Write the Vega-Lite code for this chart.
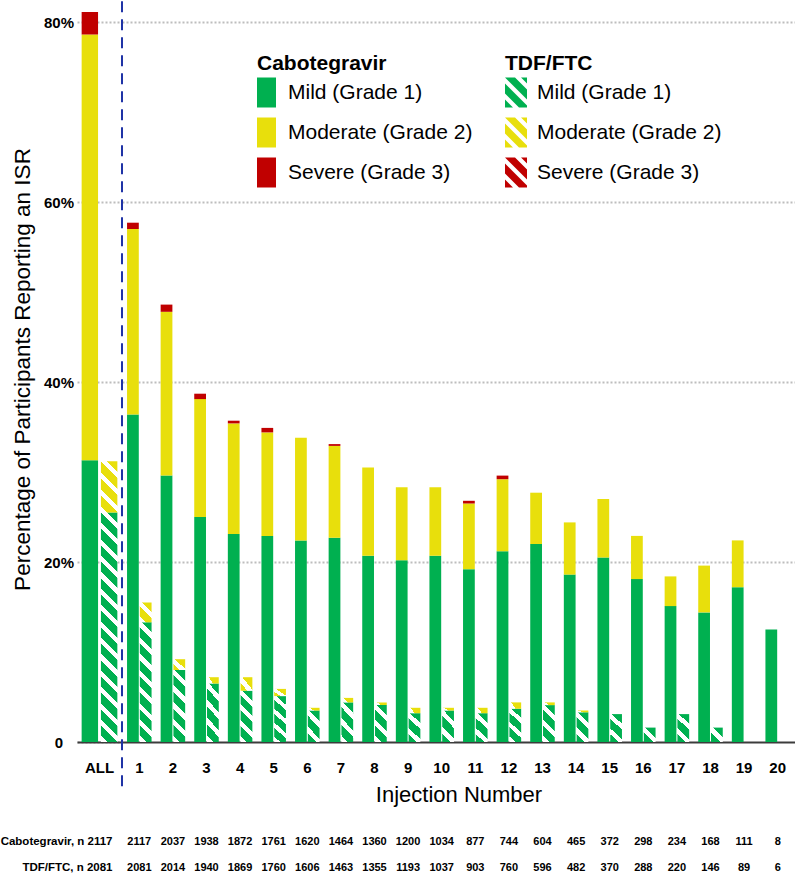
{
"$schema": "https://vega.github.io/schema/vega-lite/v6.json",
"background": "white",
"padding": {"left": 0, "top": 0, "right": 0, "bottom": 0},
"autosize": {"type": "pad"},
"datasets": {
"bars": [
{"inj":"ALL","arm":"Cabotegravir","grade":"Mild (Grade 1)","pct":31.3},
{"inj":"ALL","arm":"Cabotegravir","grade":"Moderate (Grade 2)","pct":47.3},
{"inj":"ALL","arm":"Cabotegravir","grade":"Severe (Grade 3)","pct":2.5},
{"inj":"ALL","arm":"TDF/FTC","grade":"Mild (Grade 1)","pct":25.5},
{"inj":"ALL","arm":"TDF/FTC","grade":"Moderate (Grade 2)","pct":5.7},
{"inj":"1","arm":"Cabotegravir","grade":"Mild (Grade 1)","pct":36.4},
{"inj":"1","arm":"Cabotegravir","grade":"Moderate (Grade 2)","pct":20.6},
{"inj":"1","arm":"Cabotegravir","grade":"Severe (Grade 3)","pct":0.7},
{"inj":"1","arm":"TDF/FTC","grade":"Mild (Grade 1)","pct":13.3},
{"inj":"1","arm":"TDF/FTC","grade":"Moderate (Grade 2)","pct":2.2},
{"inj":"2","arm":"Cabotegravir","grade":"Mild (Grade 1)","pct":29.6},
{"inj":"2","arm":"Cabotegravir","grade":"Moderate (Grade 2)","pct":18.2},
{"inj":"2","arm":"Cabotegravir","grade":"Severe (Grade 3)","pct":0.8},
{"inj":"2","arm":"TDF/FTC","grade":"Mild (Grade 1)","pct":8.0},
{"inj":"2","arm":"TDF/FTC","grade":"Moderate (Grade 2)","pct":1.2},
{"inj":"3","arm":"Cabotegravir","grade":"Mild (Grade 1)","pct":25.0},
{"inj":"3","arm":"Cabotegravir","grade":"Moderate (Grade 2)","pct":13.1},
{"inj":"3","arm":"Cabotegravir","grade":"Severe (Grade 3)","pct":0.6},
{"inj":"3","arm":"TDF/FTC","grade":"Mild (Grade 1)","pct":6.5},
{"inj":"3","arm":"TDF/FTC","grade":"Moderate (Grade 2)","pct":0.7},
{"inj":"4","arm":"Cabotegravir","grade":"Mild (Grade 1)","pct":23.1},
{"inj":"4","arm":"Cabotegravir","grade":"Moderate (Grade 2)","pct":12.3},
{"inj":"4","arm":"Cabotegravir","grade":"Severe (Grade 3)","pct":0.3},
{"inj":"4","arm":"TDF/FTC","grade":"Mild (Grade 1)","pct":5.7},
{"inj":"4","arm":"TDF/FTC","grade":"Moderate (Grade 2)","pct":1.5},
{"inj":"5","arm":"Cabotegravir","grade":"Mild (Grade 1)","pct":22.9},
{"inj":"5","arm":"Cabotegravir","grade":"Moderate (Grade 2)","pct":11.5},
{"inj":"5","arm":"Cabotegravir","grade":"Severe (Grade 3)","pct":0.5},
{"inj":"5","arm":"TDF/FTC","grade":"Mild (Grade 1)","pct":5.1},
{"inj":"5","arm":"TDF/FTC","grade":"Moderate (Grade 2)","pct":0.8},
{"inj":"6","arm":"Cabotegravir","grade":"Mild (Grade 1)","pct":22.4},
{"inj":"6","arm":"Cabotegravir","grade":"Moderate (Grade 2)","pct":11.4},
{"inj":"6","arm":"TDF/FTC","grade":"Mild (Grade 1)","pct":3.5},
{"inj":"6","arm":"TDF/FTC","grade":"Moderate (Grade 2)","pct":0.3},
{"inj":"7","arm":"Cabotegravir","grade":"Mild (Grade 1)","pct":22.7},
{"inj":"7","arm":"Cabotegravir","grade":"Moderate (Grade 2)","pct":10.2},
{"inj":"7","arm":"Cabotegravir","grade":"Severe (Grade 3)","pct":0.2},
{"inj":"7","arm":"TDF/FTC","grade":"Mild (Grade 1)","pct":4.4},
{"inj":"7","arm":"TDF/FTC","grade":"Moderate (Grade 2)","pct":0.5},
{"inj":"8","arm":"Cabotegravir","grade":"Mild (Grade 1)","pct":20.7},
{"inj":"8","arm":"Cabotegravir","grade":"Moderate (Grade 2)","pct":9.8},
{"inj":"8","arm":"TDF/FTC","grade":"Mild (Grade 1)","pct":4.1},
{"inj":"8","arm":"TDF/FTC","grade":"Moderate (Grade 2)","pct":0.3},
{"inj":"9","arm":"Cabotegravir","grade":"Mild (Grade 1)","pct":20.2},
{"inj":"9","arm":"Cabotegravir","grade":"Moderate (Grade 2)","pct":8.1},
{"inj":"9","arm":"TDF/FTC","grade":"Mild (Grade 1)","pct":3.2},
{"inj":"9","arm":"TDF/FTC","grade":"Moderate (Grade 2)","pct":0.6},
{"inj":"10","arm":"Cabotegravir","grade":"Mild (Grade 1)","pct":20.7},
{"inj":"10","arm":"Cabotegravir","grade":"Moderate (Grade 2)","pct":7.6},
{"inj":"10","arm":"TDF/FTC","grade":"Mild (Grade 1)","pct":3.5},
{"inj":"10","arm":"TDF/FTC","grade":"Moderate (Grade 2)","pct":0.3},
{"inj":"11","arm":"Cabotegravir","grade":"Mild (Grade 1)","pct":19.2},
{"inj":"11","arm":"Cabotegravir","grade":"Moderate (Grade 2)","pct":7.3},
{"inj":"11","arm":"Cabotegravir","grade":"Severe (Grade 3)","pct":0.3},
{"inj":"11","arm":"TDF/FTC","grade":"Mild (Grade 1)","pct":3.2},
{"inj":"11","arm":"TDF/FTC","grade":"Moderate (Grade 2)","pct":0.6},
{"inj":"12","arm":"Cabotegravir","grade":"Mild (Grade 1)","pct":21.2},
{"inj":"12","arm":"Cabotegravir","grade":"Moderate (Grade 2)","pct":8.0},
{"inj":"12","arm":"Cabotegravir","grade":"Severe (Grade 3)","pct":0.4},
{"inj":"12","arm":"TDF/FTC","grade":"Mild (Grade 1)","pct":3.7},
{"inj":"12","arm":"TDF/FTC","grade":"Moderate (Grade 2)","pct":0.7},
{"inj":"13","arm":"Cabotegravir","grade":"Mild (Grade 1)","pct":22.0},
{"inj":"13","arm":"Cabotegravir","grade":"Moderate (Grade 2)","pct":5.7},
{"inj":"13","arm":"TDF/FTC","grade":"Mild (Grade 1)","pct":4.1},
{"inj":"13","arm":"TDF/FTC","grade":"Moderate (Grade 2)","pct":0.3},
{"inj":"14","arm":"Cabotegravir","grade":"Mild (Grade 1)","pct":18.6},
{"inj":"14","arm":"Cabotegravir","grade":"Moderate (Grade 2)","pct":5.8},
{"inj":"14","arm":"TDF/FTC","grade":"Mild (Grade 1)","pct":3.3},
{"inj":"14","arm":"TDF/FTC","grade":"Moderate (Grade 2)","pct":0.2},
{"inj":"15","arm":"Cabotegravir","grade":"Mild (Grade 1)","pct":20.5},
{"inj":"15","arm":"Cabotegravir","grade":"Moderate (Grade 2)","pct":6.5},
{"inj":"15","arm":"TDF/FTC","grade":"Mild (Grade 1)","pct":3.1},
{"inj":"16","arm":"Cabotegravir","grade":"Mild (Grade 1)","pct":18.1},
{"inj":"16","arm":"Cabotegravir","grade":"Moderate (Grade 2)","pct":4.8},
{"inj":"16","arm":"TDF/FTC","grade":"Mild (Grade 1)","pct":1.6},
{"inj":"17","arm":"Cabotegravir","grade":"Mild (Grade 1)","pct":15.1},
{"inj":"17","arm":"Cabotegravir","grade":"Moderate (Grade 2)","pct":3.3},
{"inj":"17","arm":"TDF/FTC","grade":"Mild (Grade 1)","pct":3.1},
{"inj":"18","arm":"Cabotegravir","grade":"Mild (Grade 1)","pct":14.4},
{"inj":"18","arm":"Cabotegravir","grade":"Moderate (Grade 2)","pct":5.2},
{"inj":"18","arm":"TDF/FTC","grade":"Mild (Grade 1)","pct":1.6},
{"inj":"19","arm":"Cabotegravir","grade":"Mild (Grade 1)","pct":17.2},
{"inj":"19","arm":"Cabotegravir","grade":"Moderate (Grade 2)","pct":5.2},
{"inj":"20","arm":"Cabotegravir","grade":"Mild (Grade 1)","pct":12.5}
],
"counts": [
{"inj":"1","row":"Cabotegravir, n 2117","n":2117},{"inj":"2","row":"Cabotegravir, n 2117","n":2037},{"inj":"3","row":"Cabotegravir, n 2117","n":1938},{"inj":"4","row":"Cabotegravir, n 2117","n":1872},{"inj":"5","row":"Cabotegravir, n 2117","n":1761},{"inj":"6","row":"Cabotegravir, n 2117","n":1620},{"inj":"7","row":"Cabotegravir, n 2117","n":1464},{"inj":"8","row":"Cabotegravir, n 2117","n":1360},{"inj":"9","row":"Cabotegravir, n 2117","n":1200},{"inj":"10","row":"Cabotegravir, n 2117","n":1034},{"inj":"11","row":"Cabotegravir, n 2117","n":877},{"inj":"12","row":"Cabotegravir, n 2117","n":744},{"inj":"13","row":"Cabotegravir, n 2117","n":604},{"inj":"14","row":"Cabotegravir, n 2117","n":465},{"inj":"15","row":"Cabotegravir, n 2117","n":372},{"inj":"16","row":"Cabotegravir, n 2117","n":298},{"inj":"17","row":"Cabotegravir, n 2117","n":234},{"inj":"18","row":"Cabotegravir, n 2117","n":168},{"inj":"19","row":"Cabotegravir, n 2117","n":111},{"inj":"20","row":"Cabotegravir, n 2117","n":8},
{"inj":"1","row":"TDF/FTC, n 2081","n":2081},{"inj":"2","row":"TDF/FTC, n 2081","n":2014},{"inj":"3","row":"TDF/FTC, n 2081","n":1940},{"inj":"4","row":"TDF/FTC, n 2081","n":1869},{"inj":"5","row":"TDF/FTC, n 2081","n":1760},{"inj":"6","row":"TDF/FTC, n 2081","n":1606},{"inj":"7","row":"TDF/FTC, n 2081","n":1463},{"inj":"8","row":"TDF/FTC, n 2081","n":1355},{"inj":"9","row":"TDF/FTC, n 2081","n":1193},{"inj":"10","row":"TDF/FTC, n 2081","n":1037},{"inj":"11","row":"TDF/FTC, n 2081","n":903},{"inj":"12","row":"TDF/FTC, n 2081","n":760},{"inj":"13","row":"TDF/FTC, n 2081","n":596},{"inj":"14","row":"TDF/FTC, n 2081","n":482},{"inj":"15","row":"TDF/FTC, n 2081","n":370},{"inj":"16","row":"TDF/FTC, n 2081","n":288},{"inj":"17","row":"TDF/FTC, n 2081","n":220},{"inj":"18","row":"TDF/FTC, n 2081","n":146},{"inj":"19","row":"TDF/FTC, n 2081","n":89},{"inj":"20","row":"TDF/FTC, n 2081","n":6}
]
},
"columns": 2,
"align": "each",
"bounds": "flush",
"spacing": {"column": 0, "row": 86.5},
"resolve": {"scale": {"x": "independent", "y": "independent", "xOffset": "independent"}},
"concat": [
{
"width": 45, "height": 720,
"data": {"name": "bars"},
"transform": [{"filter": "datum.inj == 'ALL'"}],
"encoding": {
"x": {"field": "inj", "type": "ordinal", "scale": {"paddingInner": 0, "paddingOuter": 0.13},
 "axis": {"title": null, "labelAngle": 0, "labelFontSize": 15, "labelFontWeight": "bold", "labelPadding": 18, "ticks": false, "tickSize": 0, "domainColor": "#3c3c3c", "domainWidth": 2}},
"xOffset": {"field": "arm", "type": "nominal", "scale": {"domain": ["Cabotegravir", "TDF/FTC"], "paddingInner": 0.15, "paddingOuter": 0}},
"y": {"field": "pct", "type": "quantitative", "stack": "zero", "scale": {"domain": [0, 80], "nice": false},
 "axis": {"values": [0, 20, 40, 60, 80], "labelExpr": "datum.value == 0 ? '0' : datum.value + '%'", "labelFontSize": 15, "labelFontWeight": "bold", "labelAlign": "center", "labelPadding": 18.5, "ticks": false, "tickSize": 0, "domain": false, "grid": true, "gridDash": [2, 2], "gridColor": "#bdbdbd", "gridWidth": 2, "title": "Percentage of Participants Reporting an ISR", "titleFontSize": 22.5, "titleFontWeight": "normal", "titlePadding": 9, "titleY": 347}},
"order": {"field": "grade", "type": "ordinal", "sort": "ascending"}
},
"layer": [
{"transform": [{"filter": "datum.arm == 'Cabotegravir'"}], "mark": {"type": "bar"},
 "encoding": {"color": {"field": "grade", "type": "nominal", "scale": {"range": ["#00B050", "#E8DF0C", "#C00000"]}}}},
{"transform": [{"filter": "datum.arm == 'TDF/FTC'"}], "mark": {"type": "bar"},
 "encoding": {"fill": {
  "condition": [
   {"test": "datum.grade == 'Mild (Grade 1)'", "value": {"gradient":"linear","x1":1,"y1":0,"x2":0.924,"y2":1.066,"stops":[
{"offset":0,"color":"#00B050"},{"offset":0.0413,"color":"#00B050"},{"offset":0.0413,"color":"#FFFFFF"},{"offset":0.0667,"color":"#FFFFFF"},
{"offset":0.0667,"color":"#00B050"},{"offset":0.108,"color":"#00B050"},{"offset":0.108,"color":"#FFFFFF"},{"offset":0.1333,"color":"#FFFFFF"},
{"offset":0.1333,"color":"#00B050"},{"offset":0.1747,"color":"#00B050"},{"offset":0.1747,"color":"#FFFFFF"},{"offset":0.2,"color":"#FFFFFF"},
{"offset":0.2,"color":"#00B050"},{"offset":0.2413,"color":"#00B050"},{"offset":0.2413,"color":"#FFFFFF"},{"offset":0.2667,"color":"#FFFFFF"},
{"offset":0.2667,"color":"#00B050"},{"offset":0.308,"color":"#00B050"},{"offset":0.308,"color":"#FFFFFF"},{"offset":0.3333,"color":"#FFFFFF"},
{"offset":0.3333,"color":"#00B050"},{"offset":0.3747,"color":"#00B050"},{"offset":0.3747,"color":"#FFFFFF"},{"offset":0.4,"color":"#FFFFFF"},
{"offset":0.4,"color":"#00B050"},{"offset":0.4413,"color":"#00B050"},{"offset":0.4413,"color":"#FFFFFF"},{"offset":0.4667,"color":"#FFFFFF"},
{"offset":0.4667,"color":"#00B050"},{"offset":0.508,"color":"#00B050"},{"offset":0.508,"color":"#FFFFFF"},{"offset":0.5333,"color":"#FFFFFF"},
{"offset":0.5333,"color":"#00B050"},{"offset":0.5747,"color":"#00B050"},{"offset":0.5747,"color":"#FFFFFF"},{"offset":0.6,"color":"#FFFFFF"},
{"offset":0.6,"color":"#00B050"},{"offset":0.6413,"color":"#00B050"},{"offset":0.6413,"color":"#FFFFFF"},{"offset":0.6667,"color":"#FFFFFF"},
{"offset":0.6667,"color":"#00B050"},{"offset":0.708,"color":"#00B050"},{"offset":0.708,"color":"#FFFFFF"},{"offset":0.7333,"color":"#FFFFFF"},
{"offset":0.7333,"color":"#00B050"},{"offset":0.7747,"color":"#00B050"},{"offset":0.7747,"color":"#FFFFFF"},{"offset":0.8,"color":"#FFFFFF"},
{"offset":0.8,"color":"#00B050"},{"offset":0.8413,"color":"#00B050"},{"offset":0.8413,"color":"#FFFFFF"},{"offset":0.8667,"color":"#FFFFFF"},
{"offset":0.8667,"color":"#00B050"},{"offset":0.908,"color":"#00B050"},{"offset":0.908,"color":"#FFFFFF"},{"offset":0.9333,"color":"#FFFFFF"},
{"offset":0.9333,"color":"#00B050"},{"offset":0.9747,"color":"#00B050"},{"offset":0.9747,"color":"#FFFFFF"},{"offset":1,"color":"#FFFFFF"}]}},
   {"test": "datum.pct > 0", "value": {"gradient":"linear","x1":1,"y1":0,"x2":0.617,"y2":1.197,"stops":[
{"offset":0,"color":"#E8DF0C"},{"offset":0.155,"color":"#E8DF0C"},{"offset":0.155,"color":"#FFFFFF"},{"offset":0.25,"color":"#FFFFFF"},
{"offset":0.25,"color":"#E8DF0C"},{"offset":0.405,"color":"#E8DF0C"},{"offset":0.405,"color":"#FFFFFF"},{"offset":0.5,"color":"#FFFFFF"},
{"offset":0.5,"color":"#E8DF0C"},{"offset":0.655,"color":"#E8DF0C"},{"offset":0.655,"color":"#FFFFFF"},{"offset":0.75,"color":"#FFFFFF"},
{"offset":0.75,"color":"#E8DF0C"},{"offset":0.905,"color":"#E8DF0C"},{"offset":0.905,"color":"#FFFFFF"},{"offset":1,"color":"#FFFFFF"}]}}
  ],
  "field": "grade", "type": "nominal",
  "scale": {"domain": ["Mild (Grade 1)", "Moderate (Grade 2)", "Severe (Grade 3)"], "range": ["#00B050", "#E8DF0C", "#C00000"]}}}}
]
},
{
"width": 673, "height": 720,
"layer": [
{"data": {"name": "bars"},
 "transform": [{"filter": "datum.inj != 'ALL' && datum.arm == 'Cabotegravir'"}],
 "mark": {"type": "bar"},
 "encoding": {
  "x": {"field": "inj", "type": "ordinal", "sort": ["1","2","3","4","5","6","7","8","9","10","11","12","13","14","15","16","17","18","19","20"], "scale": {"paddingInner": 0.27, "paddingOuter": 0.15},
   "axis": {"title": "Injection Number", "labelAngle": 0, "labelFontSize": 15, "labelFontWeight": "bold", "labelPadding": 18, "ticks": false, "tickSize": 0, "domainColor": "#3c3c3c", "domainWidth": 2, "titleFontSize": 22, "titleFontWeight": "normal", "titlePadding": 9}},
  "xOffset": {"field": "arm", "type": "nominal", "scale": {"domain": ["Cabotegravir", "TDF/FTC"], "paddingInner": 0.08, "paddingOuter": 0}},
  "y": {"field": "pct", "type": "quantitative", "stack": "zero", "scale": {"domain": [0, 80], "nice": false},
   "axis": {"values": [20, 40, 60, 80], "labels": false, "ticks": false, "tickSize": 0, "domain": false, "grid": true, "gridDash": [2, 2], "gridColor": "#bdbdbd", "gridWidth": 2, "title": null}},
  "order": {"field": "grade", "type": "ordinal", "sort": "ascending"},
  "color": {"field": "grade", "type": "nominal", "scale": {"range": ["#00B050", "#E8DF0C", "#C00000"]},
   "legend": {"title": "Cabotegravir", "orient": "none", "legendX": 180, "legendY": 30.5, "padding": 0,
    "symbolType": "M-1,-1H0.267V1H-1Z", "symbolSize": 900, "symbolStrokeWidth": 0, "symbolOpacity": 1,
    "labelFontSize": 21, "labelColor": "#000", "labelOffset": 1, "labelLimit": 400,
    "titleFontSize": 21, "titleFontWeight": "bold", "titleColor": "#000", "titlePadding": 4, "rowPadding": 10}}
 }},
{"data": {"name": "bars"},
 "transform": [{"filter": "datum.inj != 'ALL' && datum.arm == 'TDF/FTC'"}],
 "mark": {"type": "bar"},
 "encoding": {
  "x": {"field": "inj", "type": "ordinal", "sort": ["1","2","3","4","5","6","7","8","9","10","11","12","13","14","15","16","17","18","19","20"]},
  "xOffset": {"field": "arm", "type": "nominal"},
  "y": {"field": "pct", "type": "quantitative", "stack": "zero"},
  "order": {"field": "grade", "type": "ordinal", "sort": "ascending"},
  "fill": {
   "condition": [
    {"test": "datum.grade == 'Mild (Grade 1)' && datum.pct >= 10", "value": {"gradient":"linear","x1":1,"y1":0,"x2":0.893,"y2":1.088,"stops":[
{"offset":0,"color":"#00B050"},{"offset":0.0775,"color":"#00B050"},{"offset":0.0775,"color":"#FFFFFF"},{"offset":0.125,"color":"#FFFFFF"},
{"offset":0.125,"color":"#00B050"},{"offset":0.2025,"color":"#00B050"},{"offset":0.2025,"color":"#FFFFFF"},{"offset":0.25,"color":"#FFFFFF"},
{"offset":0.25,"color":"#00B050"},{"offset":0.3275,"color":"#00B050"},{"offset":0.3275,"color":"#FFFFFF"},{"offset":0.375,"color":"#FFFFFF"},
{"offset":0.375,"color":"#00B050"},{"offset":0.4525,"color":"#00B050"},{"offset":0.4525,"color":"#FFFFFF"},{"offset":0.5,"color":"#FFFFFF"},
{"offset":0.5,"color":"#00B050"},{"offset":0.5775,"color":"#00B050"},{"offset":0.5775,"color":"#FFFFFF"},{"offset":0.625,"color":"#FFFFFF"},
{"offset":0.625,"color":"#00B050"},{"offset":0.7025,"color":"#00B050"},{"offset":0.7025,"color":"#FFFFFF"},{"offset":0.75,"color":"#FFFFFF"},
{"offset":0.75,"color":"#00B050"},{"offset":0.8275,"color":"#00B050"},{"offset":0.8275,"color":"#FFFFFF"},{"offset":0.875,"color":"#FFFFFF"},
{"offset":0.875,"color":"#00B050"},{"offset":0.9525,"color":"#00B050"},{"offset":0.9525,"color":"#FFFFFF"},{"offset":1,"color":"#FFFFFF"}]}},
    {"test": "datum.grade == 'Mild (Grade 1)' && datum.pct >= 7", "value": {"gradient":"linear","x1":1,"y1":0,"x2":0.815,"y2":1.133,"stops":[
{"offset":0,"color":"#00B050"},{"offset":0.124,"color":"#00B050"},{"offset":0.124,"color":"#FFFFFF"},{"offset":0.2,"color":"#FFFFFF"},
{"offset":0.2,"color":"#00B050"},{"offset":0.324,"color":"#00B050"},{"offset":0.324,"color":"#FFFFFF"},{"offset":0.4,"color":"#FFFFFF"},
{"offset":0.4,"color":"#00B050"},{"offset":0.524,"color":"#00B050"},{"offset":0.524,"color":"#FFFFFF"},{"offset":0.6,"color":"#FFFFFF"},
{"offset":0.6,"color":"#00B050"},{"offset":0.724,"color":"#00B050"},{"offset":0.724,"color":"#FFFFFF"},{"offset":0.8,"color":"#FFFFFF"},
{"offset":0.8,"color":"#00B050"},{"offset":0.924,"color":"#00B050"},{"offset":0.924,"color":"#FFFFFF"},{"offset":1,"color":"#FFFFFF"}]}},
    {"test": "datum.grade == 'Mild (Grade 1)' && datum.pct >= 4.6", "value": {"gradient":"linear","x1":1,"y1":0,"x2":0.737,"y2":1.166,"stops":[
{"offset":0,"color":"#00B050"},{"offset":0.155,"color":"#00B050"},{"offset":0.155,"color":"#FFFFFF"},{"offset":0.25,"color":"#FFFFFF"},
{"offset":0.25,"color":"#00B050"},{"offset":0.405,"color":"#00B050"},{"offset":0.405,"color":"#FFFFFF"},{"offset":0.5,"color":"#FFFFFF"},
{"offset":0.5,"color":"#00B050"},{"offset":0.655,"color":"#00B050"},{"offset":0.655,"color":"#FFFFFF"},{"offset":0.75,"color":"#FFFFFF"},
{"offset":0.75,"color":"#00B050"},{"offset":0.905,"color":"#00B050"},{"offset":0.905,"color":"#FFFFFF"},{"offset":1,"color":"#FFFFFF"}]}},
    {"test": "datum.grade == 'Mild (Grade 1)' && datum.pct >= 3.6", "value": {"gradient":"linear","x1":1,"y1":0,"x2":0.62,"y2":1.197,"stops":[
{"offset":0,"color":"#00B050"},{"offset":0.2067,"color":"#00B050"},{"offset":0.2067,"color":"#FFFFFF"},{"offset":0.3333,"color":"#FFFFFF"},
{"offset":0.3333,"color":"#00B050"},{"offset":0.54,"color":"#00B050"},{"offset":0.54,"color":"#FFFFFF"},{"offset":0.6667,"color":"#FFFFFF"},
{"offset":0.6667,"color":"#00B050"},{"offset":0.8733,"color":"#00B050"},{"offset":0.8733,"color":"#FFFFFF"},{"offset":1,"color":"#FFFFFF"}]}},
    {"test": "datum.grade == 'Mild (Grade 1)' && datum.pct >= 2.5", "value": {"gradient":"linear","x1":1,"y1":0,"x2":0.527,"y2":1.207,"stops":[
{"offset":0,"color":"#00B050"},{"offset":0.248,"color":"#00B050"},{"offset":0.248,"color":"#FFFFFF"},{"offset":0.4,"color":"#FFFFFF"},
{"offset":0.4,"color":"#00B050"},{"offset":0.648,"color":"#00B050"},{"offset":0.648,"color":"#FFFFFF"},{"offset":0.8,"color":"#FFFFFF"},
{"offset":0.8,"color":"#00B050"},{"offset":1,"color":"#00B050"}]}},
    {"test": "datum.grade == 'Mild (Grade 1)'", "value": {"gradient":"linear","x1":1,"y1":0,"x2":0.111,"y2":1.09,"stops":[
{"offset":0,"color":"#00B050"},{"offset":0.3875,"color":"#00B050"},{"offset":0.3875,"color":"#FFFFFF"},{"offset":0.625,"color":"#FFFFFF"},
{"offset":0.625,"color":"#00B050"},{"offset":1,"color":"#00B050"}]}},
    {"test": "datum.pct >= 2", "value": {"gradient":"linear","x1":1,"y1":0,"x2":0.3,"y2":1.179,"stops":[
{"offset":0,"color":"#E8DF0C"},{"offset":0.31,"color":"#E8DF0C"},{"offset":0.31,"color":"#FFFFFF"},{"offset":0.5,"color":"#FFFFFF"},
{"offset":0.5,"color":"#E8DF0C"},{"offset":0.81,"color":"#E8DF0C"},{"offset":0.81,"color":"#FFFFFF"},{"offset":1,"color":"#FFFFFF"}]}},
    {"test": "datum.pct >= 0.8", "value": {"gradient":"linear","x1":1,"y1":0,"x2":-0.032,"y2":0.966,"stops":[
{"offset":0,"color":"#E8DF0C"},{"offset":0.443,"color":"#E8DF0C"},{"offset":0.443,"color":"#FFFFFF"},{"offset":0.714,"color":"#FFFFFF"},
{"offset":0.714,"color":"#E8DF0C"},{"offset":1,"color":"#E8DF0C"}]}},
    {"test": "datum.pct > 0", "value": {"gradient":"linear","x1":1,"y1":0,"x2":-0.206,"y2":0.462,"stops":[
{"offset":0,"color":"#E8DF0C"},{"offset":0.62,"color":"#E8DF0C"},{"offset":0.62,"color":"#FFFFFF"},{"offset":1,"color":"#FFFFFF"}]}}
   ],
   "field": "grade", "type": "nominal",
   "scale": {"domain": ["Mild (Grade 1)", "Moderate (Grade 2)", "Severe (Grade 3)"], "range": ["#00B050", "#E8DF0C", "#C00000"]},
   "legend": {"title": "TDF/FTC", "orient": "none", "legendX": 428, "legendY": 30.5, "padding": 0,
    "symbolType": "M0.067,-1L0.467,-1L0.467,-0.6Z M-1,-1L-0.333,-1L0.467,-0.2L0.467,0.467Z M-1,-0.6L0.467,0.867L0.467,1L-0.067,1L-1,0.067Z M-1,0.467L-0.467,1L-1,1Z",
    "symbolSize": 900, "symbolStrokeWidth": 0, "symbolOpacity": 1,
    "labelFontSize": 21, "labelColor": "#000", "labelOffset": 2, "labelLimit": 400,
    "titleFontSize": 21, "titleFontWeight": "bold", "titleColor": "#000", "titlePadding": 4, "rowPadding": 10}}
 }},
{"data": {"values": [{"divider": "ALL | injections"}]},
 "mark": {"type": "rule", "color": "#1f33a6", "strokeWidth": 2, "strokeDash": [11, 7]},
 "encoding": {
  "x": {"datum": "1", "type": "ordinal", "bandPosition": -0.2055},
  "y": {"datum": 82.3, "type": "quantitative"},
  "y2": {"datum": -5.2}
 }}
]
},
{"width": 45, "height": 52, "data": {"values": []}, "mark": "point"},
{
"width": 673, "height": 52,
"data": {"name": "counts"},
"mark": {"type": "text", "fontSize": 11, "fontWeight": "bold", "color": "#000", "baseline": "middle"},
"encoding": {
"x": {"field": "inj", "type": "ordinal", "sort": ["1","2","3","4","5","6","7","8","9","10","11","12","13","14","15","16","17","18","19","20"], "scale": {"type": "band", "paddingInner": 0.27, "paddingOuter": 0.15}, "axis": null},
"y": {"field": "row", "type": "nominal", "sort": ["Cabotegravir, n 2117", "TDF/FTC, n 2081"], "axis": {"title": null, "domain": false, "ticks": false, "tickSize": 0, "grid": false, "labelFontSize": 11.5, "labelFontWeight": "bold", "labelPadding": 10, "labelLimit": 300, "labelColor": "#000"}},
"text": {"field": "n", "type": "quantitative", "format": "d"}
}
}
],
"config": {
"font": "Liberation Sans",
"view": {"stroke": null},
"axis": {"labelColor": "#000", "titleColor": "#000", "labelFont": "Liberation Sans", "titleFont": "Liberation Sans"},
"legend": {"labelFont": "Liberation Sans", "titleFont": "Liberation Sans"}
}
}
